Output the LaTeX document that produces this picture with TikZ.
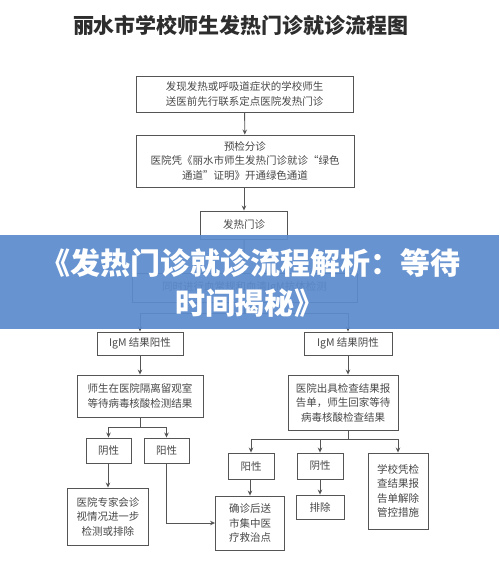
\documentclass[tikz,border=0pt]{standalone}
\usepackage{fontspec}
\setmainfont{Noto Sans CJK SC}
\usetikzlibrary{arrows.meta}
\definecolor{bannerblue}{RGB}{92,139,205}
\definecolor{ink}{RGB}{72,72,72}
\definecolor{linec}{RGB}{85,85,85}
\definecolor{titleink}{RGB}{45,45,45}
\tikzset{
  box/.style={draw=linec, line width=0.9pt, inner sep=0pt, align=center, text=ink,
    font=\fontsize{10.5}{14.5}\selectfont},
  arr/.style={draw=linec, line width=0.9pt, -{Stealth[length=5pt,width=4.5pt]}},
  ln/.style={draw=linec, line width=0.9pt},
  bannertext/.style={text=white, align=center, font=\fontsize{30}{40}\selectfont\bfseries},
}
\begin{document}
\begin{tikzpicture}[x=1pt,y=-1pt]
\useasboundingbox (0,0) rectangle (499,566);
\fill[white] (0,0) rectangle (499,566);

% title
\node[text=titleink, font=\fontsize{21}{24}\selectfont\bfseries] (title) at (241,25) {丽水市学校师生发热门诊就诊流程图};

% main column
\node[box, minimum width=217pt, minimum height=36pt] (t1) at (244.5,94)
  {发现发热或呼吸道症状的学校师生\\送医前先行联系定点医院发热门诊};
\node[box, minimum width=218pt, minimum height=52pt] (t2) at (245,161)
  {预检分诊\\医院凭《丽水市师生发热门诊就诊“绿色\\通道”证明》开通绿色通道};
\node[box, minimum width=87pt, minimum height=28pt] (t3) at (244,225) {发热门诊};
\node[box, minimum width=225pt, minimum height=29pt] (t4) at (244.5,287.5)
  {同时进行血常规和血清IgM抗体检测};

% left branch
\node[box, minimum width=86pt, minimum height=23pt] (lp) at (140,343.5) {IgM 结果阳性};
\node[box, minimum width=126pt, minimum height=42pt] (l1) at (140,396)
  {师生在医院隔离留观室\\等待病毒核酸检测结果};
\node[box, minimum width=45pt, minimum height=25pt] (lneg) at (108.5,450.5) {阴性};
\node[box, minimum width=45pt, minimum height=25pt] (lpos) at (166.5,450.5) {阳性};
\node[box, minimum width=81pt, minimum height=57pt] (lexp) at (108,516.5)
  {医院专家会诊\\视情况进一步\\检测或排除};

% right branch
\node[box, minimum width=88pt, minimum height=23pt] (rn) at (348,343.5) {IgM 结果阴性};
\node[box, minimum width=110pt, minimum height=55pt] (r1) at (343,402.5)
  {医院出具检查结果报\\告单，师生回家等待\\病毒核酸检查结果};
\node[box, minimum width=46pt, minimum height=26pt] (rpos) at (251,466) {阳性};
\node[box, minimum width=46pt, minimum height=26pt] (rneg) at (320,466) {阴性};
\node[box, minimum width=60pt, minimum height=76pt] (rsch) at (398,491)
  {学校凭检\\查结果报\\告单解除\\管控措施};
\node[box, minimum width=69pt, minimum height=54pt] (conf) at (250,523)
  {确诊后送\\市集中医\\疗救治点};
\node[box, minimum width=48pt, minimum height=24pt] (excl) at (320,507) {排除};

% connectors
\draw[arr] (t1) -- (t2);
\draw[arr] (t2.south -| t3) -- (t3);
\draw[arr] (t3) -- (t4);
\coordinate (j1) at (244.5,313);
\draw[ln] (t4.south) -- (j1);
\draw[arr] (j1) -| (lp.north);
\draw[arr] (j1) -| (rn.north);

\draw[arr] (lp) -- (l1);
\coordinate (j2) at (140,427);
\draw[ln] (l1.south) -- (j2);
\draw[arr] (j2) -| (lneg.north);
\draw[arr] (j2) -| (lpos.north);
\draw[arr] (lneg.south -| lexp) -- (lexp.north);
\draw[arr] (lpos.south) |- (conf.west);

\draw[arr] (rn.south) -- (rn.south |- r1.north);
\coordinate (j3) at (348,439);
\draw[ln] (rn.south |- r1.south) -- (j3);
\draw[arr] (j3) -| (rpos.north);
\draw[arr] (j3) -| (rneg.north);
\draw[arr] (j3) -| (rsch.north);
\draw[arr] (rpos.south -| conf) -- (conf.north);
\draw[arr] (rneg) -- (excl);

% banner overlay
\fill[bannerblue, opacity=0.93] (0,235) rectangle (499,329);
\node[bannertext] (b1) at (251,263) {《发热门诊就诊流程解析：等待};
\node[bannertext] (b2) at (250,303) {时间揭秘》};
\end{tikzpicture}
\end{document}
